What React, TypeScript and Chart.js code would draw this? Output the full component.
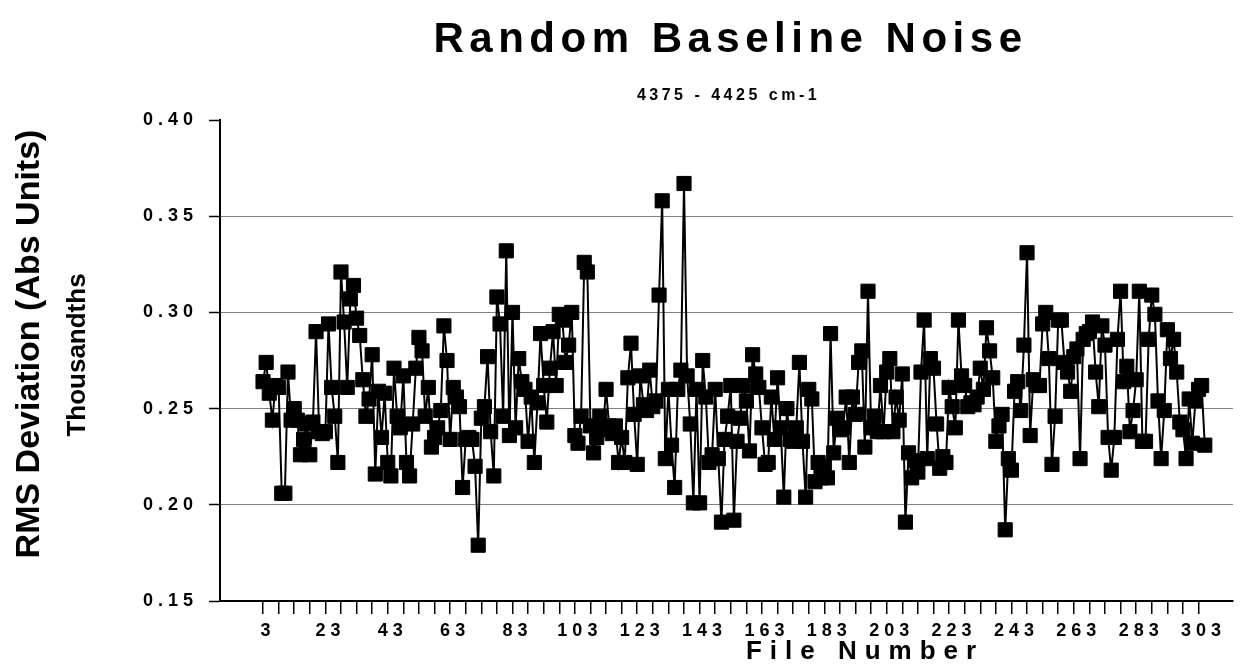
import { useEffect, useRef } from 'react';
import { Chart, registerables } from 'chart.js';

Chart.register(...registerables);

const TITLE = 'Random Baseline Noise';
const SUBTITLE = '4375 - 4425 cm-1';
const X_TITLE = 'File Number';
const Y_TITLE = 'RMS Deviation (Abs Units)';
const Y_SUBTITLE = 'Thousandths';

const FIRST_FILE = 3;

// RMS deviation per file (thousandths of absorbance units), files 3..305
const rmsValues: number[] = [
  0.264, 0.274, 0.258, 0.244, 0.262, 0.261, 0.206, 0.206, 0.269, 0.244,
  0.250, 0.244, 0.226, 0.234, 0.242, 0.226, 0.243, 0.290, 0.238, 0.237,
  0.238, 0.294, 0.261, 0.246, 0.222, 0.321, 0.295, 0.261, 0.307, 0.314,
  0.297, 0.288, 0.265, 0.246, 0.255, 0.278, 0.216, 0.259, 0.235, 0.258,
  0.222, 0.215, 0.271, 0.246, 0.240, 0.267, 0.222, 0.215, 0.242,
  0.271, 0.287, 0.280, 0.246, 0.261, 0.230, 0.235, 0.240, 0.249, 0.293,
  0.275, 0.234, 0.261, 0.256, 0.251, 0.209, 0.234, 0.235, 0.234, 0.220,
  0.179, 0.245, 0.251, 0.277, 0.238, 0.215, 0.308, 0.294, 0.246, 0.332,
  0.236, 0.300, 0.240, 0.276, 0.264, 0.260, 0.233, 0.256, 0.222, 0.253,
  0.289, 0.262, 0.243, 0.271, 0.290, 0.262, 0.299, 0.296, 0.274, 0.283,
  0.300, 0.236, 0.232, 0.246, 0.326, 0.321, 0.241, 0.227, 0.235, 0.246,
  0.239, 0.260, 0.241, 0.237, 0.241, 0.222, 0.235, 0.222, 0.266, 0.284,
  0.247, 0.221, 0.267, 0.252, 0.249, 0.270, 0.251, 0.254, 0.309, 0.358,
  0.224, 0.260, 0.231, 0.209, 0.260, 0.270, 0.367, 0.267, 0.242, 0.201,
  0.260, 0.201, 0.275, 0.256, 0.222, 0.226, 0.260, 0.224, 0.191, 0.234,
  0.246, 0.262, 0.192, 0.233, 0.245, 0.262, 0.254, 0.228, 0.278,
  0.268, 0.261, 0.240, 0.221, 0.222, 0.256, 0.234, 0.266, 0.240, 0.204,
  0.250, 0.234, 0.233, 0.240, 0.274, 0.233, 0.204, 0.260, 0.255, 0.212,
  0.222, 0.214, 0.220, 0.214, 0.289, 0.227, 0.245, 0.239, 0.240, 0.256,
  0.222, 0.256, 0.247, 0.274, 0.280, 0.230, 0.311, 0.240, 0.246, 0.238,
  0.262, 0.238, 0.269, 0.276, 0.238, 0.256, 0.244, 0.268, 0.191, 0.227,
  0.214, 0.223, 0.217, 0.269, 0.296, 0.224, 0.276, 0.271, 0.242, 0.219,
  0.225, 0.222, 0.261, 0.251, 0.240, 0.296, 0.267, 0.262, 0.251, 0.253,
  0.252, 0.256, 0.271, 0.260, 0.292, 0.280, 0.266, 0.233, 0.241, 0.247,
  0.187, 0.224, 0.218, 0.259, 0.264, 0.249, 0.283, 0.331, 0.236, 0.265,
  0.262, 0.262, 0.294, 0.300, 0.276, 0.221, 0.246, 0.296, 0.296,
  0.274, 0.269, 0.259, 0.277, 0.281, 0.224, 0.286, 0.289, 0.290, 0.295,
  0.269, 0.251, 0.293, 0.283, 0.235, 0.218, 0.235, 0.286, 0.311, 0.264,
  0.272, 0.238, 0.249, 0.265, 0.311, 0.233, 0.233, 0.286, 0.309, 0.299,
  0.254, 0.224, 0.249, 0.291, 0.276, 0.286, 0.269, 0.243, 0.239, 0.224,
  0.255, 0.232, 0.254, 0.260, 0.262, 0.231,
];

const fileNumbers: number[] = rmsValues.map((_, i) => FIRST_FILE + i);

const X_TICK_LABELS = ['3', '23', '43', '63', '83', '103', '123', '143', '163', '183', '203', '223', '243', '263', '283', '303'];
const X_MINOR_STEP = 5;
const X_MIN = -10.8;
const X_MAX = 314.05;

const Y_TICK_LABELS = ['0.15', '0.20', '0.25', '0.30', '0.35', '0.40'];

const FONT = '"Liberation Sans", Arial, Helvetica, sans-serif';

const textPlugin = {
  id: 'customText',
  beforeUpdate(chart: any) {
    chart.ctx.letterSpacing = '5px';
  },
  beforeDraw(chart: any) {
    chart.ctx.letterSpacing = '5px';
  },
  afterDraw(chart: any) {
    const { ctx, chartArea } = chart;
    const cx = (chartArea.left + chartArea.right) / 2;
    ctx.save();
    ctx.fillStyle = '#000';
    ctx.textAlign = 'center';
    ctx.textBaseline = 'alphabetic';

    ctx.letterSpacing = '5.5px';
    ctx.font = `bold 42px ${FONT}`;
    ctx.fillText(TITLE, cx + 4, chartArea.top - 68);

    ctx.letterSpacing = '3.5px';
    ctx.font = `bold 16px ${FONT}`;
    ctx.fillText(SUBTITLE, cx + 2, chartArea.top - 20);

    ctx.letterSpacing = '8px';
    ctx.font = `bold 26px ${FONT}`;
    ctx.fillText(X_TITLE, 865, chartArea.bottom + 58);

    ctx.letterSpacing = '0px';
    ctx.textBaseline = 'middle';
    ctx.font = `bold 34px ${FONT}`;
    ctx.save();
    ctx.translate(30, 344);
    ctx.rotate(-Math.PI / 2);
    ctx.fillText(Y_TITLE, 0, 0);
    ctx.restore();

    ctx.font = `bold 26px ${FONT}`;
    ctx.save();
    ctx.translate(78, 355);
    ctx.rotate(-Math.PI / 2);
    ctx.fillText(Y_SUBTITLE, 0, 0);
    ctx.restore();

    ctx.restore();
  },
};

export default function App() {
  const canvasRef = useRef<HTMLCanvasElement | null>(null);

  useEffect(() => {
    const canvas = canvasRef.current;
    if (!canvas) return;
    const minorTicks: number[] = [];
    for (let v = FIRST_FILE; v <= Number(X_TICK_LABELS[X_TICK_LABELS.length - 1]); v += X_MINOR_STEP) {
      minorTicks.push(v);
    }
    const chart = new Chart(canvas, {
      type: 'line',
      data: {
        datasets: [
          {
            data: fileNumbers.map((f, i) => ({ x: f, y: rmsValues[i] })),
            borderColor: '#000',
            borderWidth: 2,
            backgroundColor: '#000',
            pointStyle: 'rect',
            pointRadius: 10,
            pointBackgroundColor: '#000',
            pointBorderColor: '#000',
            pointBorderWidth: 1,
            tension: 0,
            fill: false,
          },
        ],
      },
      options: {
        responsive: false,
        animation: false,
        events: [],
        layout: { padding: { top: 120, right: 4, bottom: 0, left: 0 } },
        plugins: {
          legend: { display: false },
          title: { display: false },
          tooltip: { enabled: false },
        },
        scales: {
          x: {
            type: 'linear',
            min: X_MIN,
            max: X_MAX,
            afterBuildTicks: (scale: any) => {
              scale.ticks = minorTicks.map((v) => ({ value: v }));
            },
            afterFit: (scale: any) => {
              scale.height = 70;
            },
            ticks: {
              autoSkip: false,
              maxRotation: 0,
              minRotation: 0,
              padding: 6,
              labelOffset: 5,
              color: '#000',
              font: { family: FONT, size: 18, weight: 'bold' },
              callback: (value: any) => (X_TICK_LABELS.includes(String(value)) ? String(value) : ''),
            },
            grid: {
              drawOnChartArea: false,
              drawTicks: true,
              tickLength: 13,
              color: '#000',
              tickColor: '#000',
              lineWidth: 1.5,
            },
            border: { display: true, color: '#000', width: 2 },
          },
          y: {
            type: 'linear',
            min: Number(Y_TICK_LABELS[0]),
            max: Number(Y_TICK_LABELS[Y_TICK_LABELS.length - 1]),
            afterBuildTicks: (scale: any) => {
              scale.ticks = Y_TICK_LABELS.map((t) => ({ value: Number(t) }));
            },
            afterFit: (scale: any) => {
              scale.width = 220;
            },
            ticks: {
              padding: 11,
              color: '#000',
              font: { family: FONT, size: 18, weight: 'bold' },
              callback: (value: any) => Number(value).toFixed(2),
            },
            grid: {
              drawTicks: true,
              tickLength: 11,
              color: (c: any) => {
                const v = c.tick ? c.tick.value : null;
                if (v == null) return '#808080';
                return Math.abs(v - 0.4) < 1e-6 || Math.abs(v - 0.15) < 1e-6 ? 'rgba(0,0,0,0)' : '#808080';
              },
              tickColor: '#000',
              lineWidth: 1,
              tickWidth: 1.5,
            },
            border: { display: true, color: '#000', width: 2 },
          },
        },
      },
      plugins: [textPlugin],
    });
    return () => chart.destroy();
  }, []);

  return (
    <div style={{ position: 'fixed', left: 0, top: 0, width: 1244, height: 671, background: '#fff' }}>
      <canvas ref={canvasRef} width={1244} height={671} style={{ display: 'block' }} />
    </div>
  );
}
